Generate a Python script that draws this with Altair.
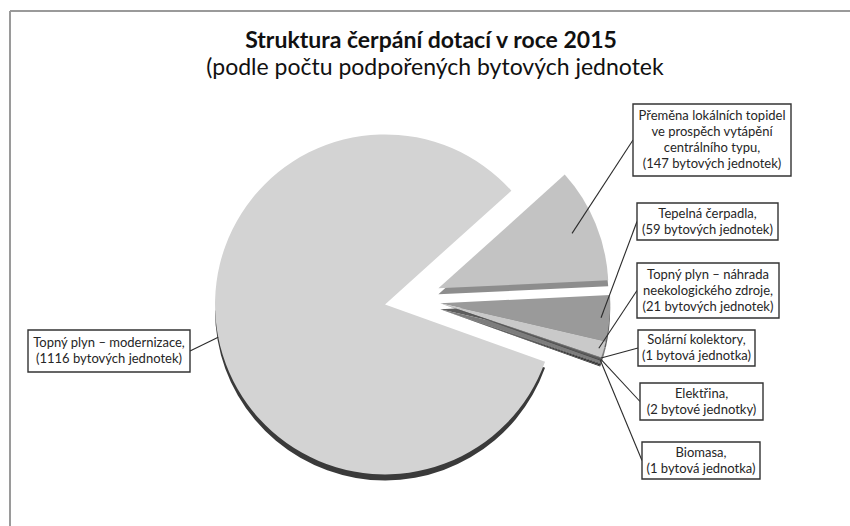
import altair as alt
import pandas as pd

# ---------------- data ----------------
categories = [
    "Přeměna lokálních topidel ve prospěch vytápění centrálního typu",
    "Tepelná čerpadla",
    "Topný plyn – náhrada neekologického zdroje",
    "Solární kolektory",
    "Elektřina",
    "Biomasa",
    "Topný plyn – modernizace",
]
label_heads = [
    ["Přeměna lokálních topidel", "ve prospěch vytápění", "centrálního typu,"],
    ["Tepelná čerpadla,"],
    ["Topný plyn – náhrada", "neekologického zdroje,"],
    ["Solární kolektory,"],
    ["Elektřina,"],
    ["Biomasa,"],
    ["Topný plyn – modernizace,"],
]
units = [147, 59, 21, 1, 2, 1, 1116]
explode_group = ["A", "B", "B", "B", "B", "B", "C"]

title_text = "Struktura čerpání dotací v roce 2015"
subtitle_text = "(podle počtu podpořených bytových jednotek"

# ---------------- styles / layout ----------------
top_colors = ["#c3c3c3", "#9a9a9a", "#c9c9c9", "#7a7a7a", "#5a5a5a", "#444444", "#d3d3d3"]
side_colors = ["#8d8d8d", "#5e5e5e", "#7c7c7c", "#3c3c3c", "#333333", "#2a2a2a", "#3a3a3a"]
explode_px = [28, 28, 28, 28, 28, 28, 28]
anchor_k = [0.85, 0.95, 0.97, 1.0, 1.0, 1.0, 1.0]
box_x0 = [633, 637, 637, 638, 640, 642, 28]
box_x1 = [791, 778, 779, 755, 763, 760, 190]
box_y0 = [104, 203, 263, 330, 383, 442, 330]
box_y1 = [176, 240, 318, 366, 420, 479, 372]
box_side = ["left", "left", "left", "left", "left", "left", "right"]

CX, CY, R, DEPTH = 412.5, 299, 170, 6
START_DEG = 48
FONT_SIZE, LINE_H = 13, 16


def jednotky(n):
    if n == 1:
        return "bytová jednotka"
    if 2 <= n <= 4:
        return "bytové jednotky"
    return "bytových jednotek"


label_lines = [h + [f"({u} {jednotky(u)})"] for h, u in zip(label_heads, units)]
labels = ["\n".join(ls) for ls in label_lines]

df = pd.DataFrame({
    "category": categories,
    "units": units,
    "grp": explode_group,
    "order": list(range(len(units))),
    "label": labels,
    "nlines": [len(ls) for ls in label_lines],
    "topcol": top_colors,
    "sidecol": side_colors,
    "explode": explode_px,
    "k": anchor_k,
    "bx0": box_x0,
    "bx1": box_x1,
    "by0": box_y0,
    "by1": box_y1,
    "bside": box_side,
})

start_rad = f"({START_DEG}*PI/180)"

base = (
    alt.Chart(df)
    .transform_window(cum="sum(units)", sort=[alt.SortField("order")], frame=[None, 0])
    .transform_joinaggregate(total="sum(units)")
    .transform_calculate(
        a0=f"{start_rad} + 2*PI*(datum.cum - datum.units)/datum.total",
        a1=f"{start_rad} + 2*PI*datum.cum/datum.total",
    )
    .transform_calculate(mid="(datum.a0 + datum.a1)/2")
    .transform_calculate(a1s="datum.a1 > 1.5*PI ? 1.5*PI : datum.a1")
    .transform_joinaggregate(ga0="min(a0)", ga1="max(a1)", groupby=["grp"])
    .transform_calculate(dir="(datum.ga0 + datum.ga1)/2")
    .transform_calculate(cx=f"{CX} + datum.explode*sin(datum.dir)")
    .transform_calculate(cy=f"{CY} - datum.explode*cos(datum.dir)")
    .transform_calculate(cys=f"{CY} - datum.explode*cos(datum.dir) + {DEPTH}")
    .transform_calculate(ax=f"datum.cx + {R}*datum.k*sin(datum.mid)")
    .transform_calculate(ay=f"datum.cy - {R}*datum.k*cos(datum.mid)")
    .transform_calculate(ex="datum.bside == 'left' ? datum.bx0 : datum.bx1")
    .transform_calculate(ey="(datum.by0 + datum.by1)/2")
    .transform_calculate(tx="(datum.bx0 + datum.bx1)/2")
    .transform_calculate(ty=f"(datum.by0 + datum.by1)/2 - (datum.nlines - 1)*{LINE_H}/2")
)

noscale = dict(scale=None, axis=None)

side = base.mark_arc(radius=R).encode(
    x=alt.X("cx:Q", **noscale),
    y=alt.Y("cys:Q", **noscale),
    theta=alt.Theta("a0:Q", scale=None),
    theta2="a1s:Q",
    fill=alt.Fill("sidecol:N", scale=None),
)

top = base.mark_arc(radius=R).encode(
    x=alt.X("cx:Q", **noscale),
    y=alt.Y("cy:Q", **noscale),
    theta=alt.Theta("a0:Q", scale=None),
    theta2="a1:Q",
    fill=alt.Fill("topcol:N", scale=None),
    tooltip=["category:N", "units:Q"],
)

leaders = base.mark_rule(color="#2b2b2b", strokeWidth=1.1).encode(
    x=alt.X("ax:Q", **noscale),
    y=alt.Y("ay:Q", **noscale),
    x2="ex:Q",
    y2="ey:Q",
)

boxes = base.mark_rect(fill="white", stroke="#333333", strokeWidth=1.4).encode(
    x=alt.X("bx0:Q", **noscale),
    x2="bx1:Q",
    y=alt.Y("by0:Q", **noscale),
    y2="by1:Q",
)

texts = base.mark_text(
    font="Lato", fontSize=FONT_SIZE, lineHeight=LINE_H, color="#262626",
    lineBreak="\n", align="center", baseline="middle",
).encode(
    x=alt.X("tx:Q", **noscale),
    y=alt.Y("ty:Q", **noscale),
    text="label:N",
)

border_top = alt.Chart(pd.DataFrame({"a": [0]})).mark_rule(color="#9a9a9a", strokeWidth=2).encode(
    x=alt.value(10), x2=alt.value(850), y=alt.value(11)
)
border_left = alt.Chart(pd.DataFrame({"a": [0]})).mark_rule(color="#9a9a9a", strokeWidth=2).encode(
    x=alt.value(10), y=alt.value(11), y2=alt.value(526)
)

title = alt.Chart(pd.DataFrame({"t": [title_text]})).mark_text(
    font="Lato", fontSize=23, fontWeight="bold", color="#111111", align="center", baseline="alphabetic"
).encode(text="t:N", x=alt.value(431), y=alt.value(48))

subtitle = alt.Chart(pd.DataFrame({"t": [subtitle_text]})).mark_text(
    font="Lato", fontSize=23, color="#111111", align="center", baseline="alphabetic"
).encode(text="t:N", x=alt.value(435), y=alt.value(75))

chart = (
    alt.layer(border_top, border_left, side, top, leaders, boxes, texts, title, subtitle)
    .properties(width=850, height=526, padding=0, autosize=alt.AutoSizeParams(type="none"))
    .configure_view(stroke=None)
)

chart.save("out.html", embed_options={"renderer": "svg", "actions": False})
